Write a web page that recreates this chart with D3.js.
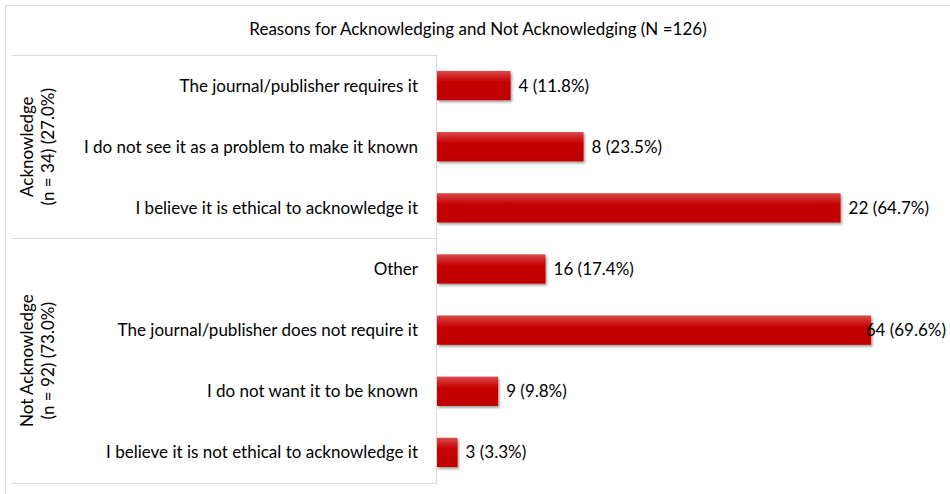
<!DOCTYPE html>
<html>
<head>
<meta charset="utf-8">
<script src="https://d3js.org/d3.v7.min.js"></script>
<style>
  body { margin: 0; background: #fff; }
  text { font-family: Lato, "Open Sans", sans-serif; fill: #000; }
</style>
</head>
<body>
<div id="chart"></div>
<script>
    var title = "Reasons for Acknowledging and Not Acknowledging (N =126)"

    // groups, top to bottom
    var groups = ["Acknowledge", "Not Acknowledge"]
    var groupSub = ["(n = 34) (27.0%)", "(n = 92) (73.0%)"]

    var categories = [
        "The journal/publisher requires it",
        "I do not see it as a problem to make it known",
        "I believe it is ethical to acknowledge it",
        "Other",
        "The journal/publisher does not require it",
        "I do not want it to be known",
        "I believe it is not ethical to acknowledge it"
    ]
    var categoryGroup = [0, 0, 0, 1, 1, 1, 1]
    var counts = [4, 8, 22, 16, 64, 9, 3]
    var percents = [11.8, 23.5, 64.7, 17.4, 69.6, 9.8, 3.3]

    var width = 950
    var height = 494
    var plotLeft = 437, plotRight = 936
    var plotTop = 55, plotBottom = 483
    var fs = "17px"

    var svg = d3.select("#chart")
        .append("svg")
        .attr("width", width)
        .attr("height", height)

    var defs = svg.append("defs")
    var grad = defs.append("linearGradient")
        .attr("id", "barGrad")
        .attr("x1", 0).attr("y1", 0).attr("x2", 0).attr("y2", 1)
    grad.append("stop").attr("offset", "0%").attr("stop-color", "#d94a4a")
    grad.append("stop").attr("offset", "35%").attr("stop-color", "#c80606")
    grad.append("stop").attr("offset", "100%").attr("stop-color", "#bd0000")

    var shadow = defs.append("filter").attr("id", "shadow")
        .attr("x", "-5%").attr("y", "-20%").attr("width", "115%").attr("height", "160%")
    shadow.append("feDropShadow")
        .attr("dx", 1.5).attr("dy", 2).attr("stdDeviation", 1.2)
        .attr("flood-color", "#000").attr("flood-opacity", 0.35)

    // outer chart border (only top/left visible in the crop)
    svg.append("path")
        .attr("d", "M5.5," + height + "V5.5H" + width)
        .attr("fill", "none")
        .attr("stroke", "#d9d9d9")
        .attr("stroke-width", 1)

    // title
    svg.append("text")
        .attr("x", 478)
        .attr("y", 35)
        .attr("text-anchor", "middle")
        .style("font-size", fs)
        .text(title)

    var x = d3.scaleLinear()
        .domain([0, 80])
        .range([plotLeft, plotRight])

    var y = d3.scaleBand()
        .domain(categories)
        .range([plotTop, plotBottom])
        .paddingInner(0.52)
        .paddingOuter(0.26)

    var step = y.step()

    // separator between groups sits half a step above first category of next group
    var sepYs = [plotTop]
    for (var i = 1; i < groups.length; i++) {
        var first = categories[categoryGroup.indexOf(i)]
        sepYs.push(y(first) - y.paddingInner() * step / 2)
    }
    sepYs.push(plotBottom)

    var lines = svg.append("g")
    sepYs.forEach(function(sy) {
        lines.append("line")
            .attr("x1", 12).attr("x2", plotLeft)
            .attr("y1", Math.round(sy) + 0.5).attr("y2", Math.round(sy) + 0.5)
            .attr("stroke", "#d9d9d9")
    })
    lines.append("line")
        .attr("x1", plotLeft - 0.5).attr("x2", plotLeft - 0.5)
        .attr("y1", plotTop).attr("y2", plotBottom + 1)
        .attr("stroke", "#d9d9d9")

    // group labels (rotated)
    groups.forEach(function(g, gi) {
        var cy = (sepYs[gi] + sepYs[gi + 1]) / 2
        var t = svg.append("text")
            .attr("transform", "translate(33," + cy + ") rotate(-90)")
            .attr("text-anchor", "middle")
            .style("font-size", fs)
        t.append("tspan").attr("x", 0).attr("dy", 0).text(g)
        t.append("tspan").attr("x", 0).attr("dy", 21).text(groupSub[gi])
    })

    // category labels
    svg.append("g").selectAll("text")
        .data(categories)
        .join("text")
        .attr("x", 418)
        .attr("y", function(d) { return y(d) + y.bandwidth() / 2 })
        .attr("dy", "0.35em")
        .attr("text-anchor", "end")
        .style("font-size", fs)
        .text(function(d) { return d })

    // bars
    svg.append("g").selectAll("rect")
        .data(categories)
        .join("rect")
        .attr("x", x(0))
        .attr("y", function(d) { return y(d) })
        .attr("width", function(d, i) { return x(percents[i]) - x(0) })
        .attr("height", y.bandwidth())
        .attr("fill", "url(#barGrad)")
        .attr("filter", "url(#shadow)")

    // value labels
    var labels = svg.append("g").selectAll("text")
        .data(categories)
        .join("text")
        .attr("y", function(d) { return y(d) + y.bandwidth() / 2 })
        .attr("dy", "0.35em")
        .style("font-size", fs)
        .text(function(d, i) { return counts[i] + " (" + percents[i] + "%)" })
    labels.attr("x", function(d, i) {
        var w = this.getComputedTextLength()
        return Math.min(x(percents[i]) + 8, 946 - w)
    })
</script>
</body>
</html>
